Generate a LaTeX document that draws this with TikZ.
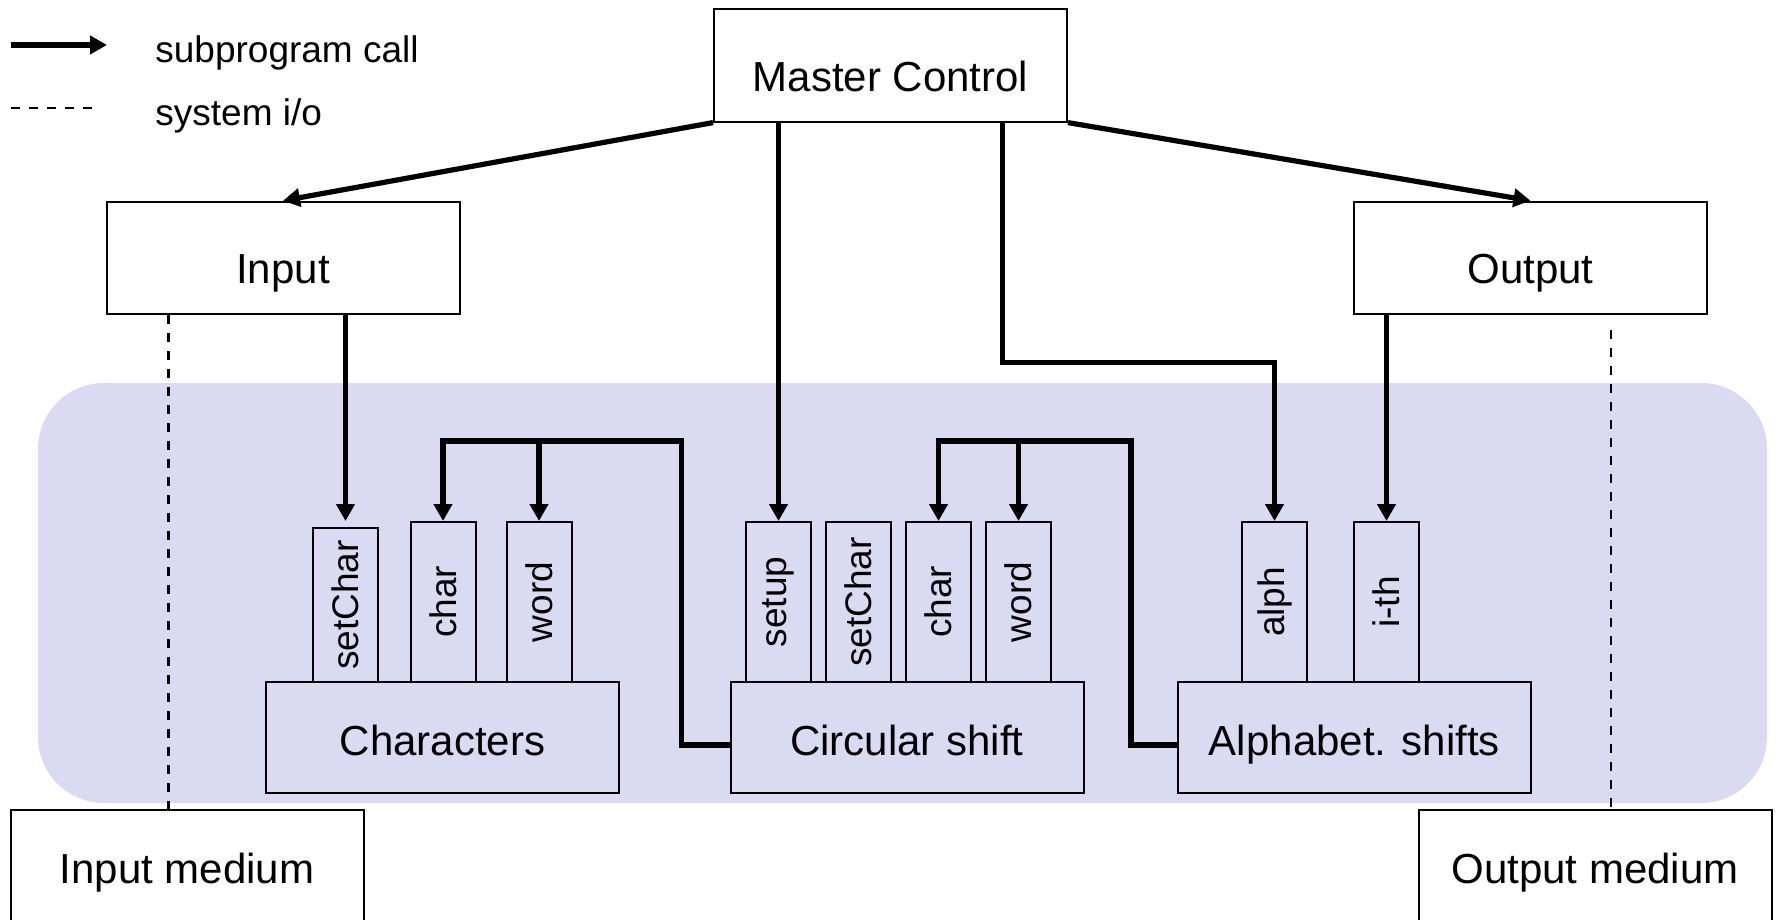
\documentclass[tikz,border=0pt]{standalone}
\usepackage{fontspec}
\setmainfont{Liberation Sans}
\usepackage{graphicx}
\usetikzlibrary{arrows.meta,calc}
\definecolor{modulebg}{RGB}{218,218,242}

\begin{document}
\begin{tikzpicture}[x=0.5pt,y=-0.5pt,
  box/.style={draw, line width=1pt, inner sep=0pt, text depth=0pt,
    font=\fontsize{21}{25}\selectfont},
  topbox/.style={box, fill=white, minimum width=176.5pt, minimum height=56.3pt},
  modbox/.style={box, minimum width=176.5pt, minimum height=55.5pt, text height=17.5pt},
  medbox/.style={box, fill=white, minimum width=176.5pt, minimum height=58pt, text height=15pt},
  routine/.style={draw, line width=1pt, inner sep=0pt, minimum width=32.5pt,
    minimum height=80pt, font=\fontsize{18.5}{22}\selectfont},
  legendtext/.style={inner sep=0pt, anchor=base west, font=\fontsize{18.5}{22}\selectfont},
  call/.style={line width=2.6pt, -{Triangle[length=8.5pt,width=9pt]}},
  sysio/.style={line width=1.1pt, dash pattern=on 4.25pt off 4.75pt},
]
\useasboundingbox (0,0) rectangle (1779,920);

% module area
\fill[modulebg, rounded corners=33pt] (38,383) rectangle (1767,803);

% top level
\node[topbox, text height=26pt] (master) at (890.5,65.3) {Master Control};
\node[topbox, text height=25pt] (input) at (283,258) {Input};
\node[topbox, text height=25pt] (output) at (1530.5,258) {Output};

% access routines
\node[routine, minimum height=77pt] (chSetChar) at (345.5,605) {\rotatebox{90}{setChar}};
\node[routine] (chChar) at (443,602) {\rotatebox{90}{char}};
\node[routine] (chWord) at (539,602) {\rotatebox{90}{word}};
\node[routine] (csSetup) at (778.5,602) {\rotatebox{90}{setup}};
\node[routine] (csSetChar) at (858.5,602) {\rotatebox{90}{setChar}};
\node[routine] (csChar) at (938.5,602) {\rotatebox{90}{char}};
\node[routine] (csWord) at (1018.5,602) {\rotatebox{90}{word}};
\node[routine] (asAlph) at (1274.5,602) {\rotatebox{90}{alph}};
\node[routine] (asIth) at (1386.5,602) {\rotatebox{90}{i-th}};

% modules
\node[modbox] (chars) at (442.5,737.5) {Characters};
\node[modbox] (circ) at (907,737.5) {Circular shift};
\node[modbox] (alpha) at (1354.5,737.5) {Alphabet. shifts};

% media
\node[medbox] (inmed) at (187,868) {Input medium};
\node[medbox] (outmed) at (1595,868) {Output medium};

% legend
\coordinate (lgCallA) at (11,45);
\coordinate (lgCallB) at (107,45);
\draw[call] (lgCallA) -- (lgCallB);
\node[legendtext] (lgCallText) at (155,63) {subprogram call};
\coordinate (lgIoA) at (11,108);
\coordinate (lgIoB) at (92,108);
\draw[sysio] (lgIoA) -- (lgIoB);
\node[legendtext] (lgIoText) at (155,126) {system i/o};

% subprogram calls
\draw[call] (master.south west) -- (input.north);
\draw[call] (master.south east) -- (output.north);
\draw[call] (csSetup.north |- master.south) -- (csSetup.north);
\draw[call] ([xshift=56pt]master.south) -- ++(0,240) -| (asAlph.north);
\draw[call] (chSetChar.north |- input.south) -- (chSetChar.north |- chChar.north);
\draw[call] (asIth.north |- output.south) -- (asIth.north);

\draw[call] ([yshift=-3.75pt]circ.west) -- ++(-48,0) |- ([yshift=40pt]chChar.north) -- (chChar.north);
\draw[call] ([yshift=40pt]chWord.north) -- (chWord.north);
\draw[call] ([yshift=-3.75pt]alpha.west) -- ++(-46,0) |- ([yshift=40pt]csChar.north) -- (csChar.north);
\draw[call] ([yshift=40pt]csWord.north) -- (csWord.north);

% system i/o
\coordinate (inIo) at ([xshift=31.5pt]input.south west);
\draw[sysio] (inIo) -- (inIo |- inmed.north);
\coordinate (outIo) at (1611,330);
\draw[sysio] (outIo) -- (outIo |- outmed.north);
\end{tikzpicture}
\end{document}
